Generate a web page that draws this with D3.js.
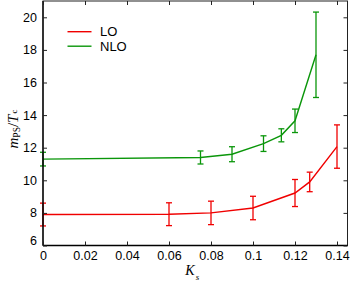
<!DOCTYPE html>
<html>
<head>
<meta charset="utf-8">
<script src="https://cdn.jsdelivr.net/npm/d3@7"></script>
<style>
  body { margin: 0; background: #fff; }
  svg text { font-family: "Liberation Sans", Arial, sans-serif; }
</style>
</head>
<body>
<svg id="chart" width="354" height="283"></svg>
<script>
const loX = [0, 0.06, 0.08, 0.1, 0.12, 0.127, 0.14]
const loY = [7.9, 7.92, 8.0, 8.3, 9.22, 9.9, 12.07]
const loErr = [0.7, 0.7, 0.72, 0.72, 0.83, 0.6, 1.33]

const nloX = [0, 0.075, 0.09, 0.105, 0.1135, 0.12, 0.13]
const nloY = [11.3, 11.4, 11.6, 12.25, 12.76, 13.65, 17.7]
const nloErr = [0.42, 0.4, 0.46, 0.48, 0.4, 0.72, 2.62]

const xTicks = [0, 0.02, 0.04, 0.06, 0.08, 0.1, 0.12, 0.14]
const yTicks = [6, 8, 10, 12, 14, 16, 18, 20]

const series = [
    {name: 'LO', color: '#f00000', x: loX, y: loY, err: loErr},
    {name: 'NLO', color: '#0a960a', x: nloX, y: nloY, err: nloErr}
]

const svg = d3.select('#chart')
const margin = {left: 43, right: 6.5, top: 1, bottom: 37.5}
const width = +svg.attr('width')
const height = +svg.attr('height')

const x = d3.scaleLinear().domain([0, 0.145])
    .range([margin.left, width - margin.right])
const y = d3.scaleLinear().domain([6, 21])
    .range([height - margin.bottom, margin.top])

const fmt = d => d === 0 ? '0' : d3.format('')(+d.toFixed(2))

// series
const line = d3.line().x(d => x(d[0])).y(d => y(d[1]))
series.forEach(s => {
    const pts = s.x.map((v, i) => [v, s.y[i], s.err[i]])
    svg.append('path')
        .attr('d', line(pts))
        .attr('fill', 'none')
        .attr('stroke', s.color)
        .attr('stroke-width', 1.4)
    const eb = svg.append('g').attr('stroke', s.color).attr('stroke-width', 1.3)
    pts.forEach(p => {
        const cx = x(p[0])
        eb.append('line').attr('x1', cx).attr('x2', cx)
            .attr('y1', y(p[1] - p[2])).attr('y2', y(p[1] + p[2]))
        ;[p[1] - p[2], p[1] + p[2]].forEach(v => {
            eb.append('line').attr('x1', cx - 3).attr('x2', cx + 3)
                .attr('y1', y(v)).attr('y2', y(v))
        })
    })
})

// frame and ticks
const x0 = x.range()[0], x1 = x.range()[1]
const y0 = y.range()[0], y1 = y.range()[1]
svg.append('rect')
    .attr('x', x0).attr('y', y1)
    .attr('width', x1 - x0).attr('height', y0 - y1)
    .attr('fill', 'none').attr('stroke', '#222').attr('stroke-width', 1)
svg.append('line').attr('x1', x0).attr('x2', x0).attr('y1', y1).attr('y2', y0)
    .attr('stroke', '#000').attr('stroke-width', 1.3)
svg.append('line').attr('x1', x0).attr('x2', x1).attr('y1', y0).attr('y2', y0)
    .attr('stroke', '#000').attr('stroke-width', 1.3)

const axB = svg.append('g')
    .attr('transform', `translate(0,${y0})`)
    .call(d3.axisBottom(x).tickValues(xTicks).tickSizeInner(-4).tickSizeOuter(0).tickPadding(5.5).tickFormat(fmt))
const axT = svg.append('g')
    .attr('transform', `translate(0,${y1})`)
    .call(d3.axisTop(x).tickValues(xTicks).tickSizeInner(-4).tickSizeOuter(0).tickFormat(''))
const axL = svg.append('g')
    .attr('transform', `translate(${x0},0)`)
    .call(d3.axisLeft(y).tickValues(yTicks).tickSizeInner(-4).tickSizeOuter(0).tickPadding(6))
const axR = svg.append('g')
    .attr('transform', `translate(${x1},0)`)
    .call(d3.axisRight(y).tickValues(yTicks).tickSizeInner(-4).tickSizeOuter(0).tickFormat(''))

;[axB, axT, axL, axR].forEach(g => {
    g.select('.domain').remove()
    g.selectAll('.tick line').attr('stroke', '#222')
    g.selectAll('text').attr('font-size', 12.5).attr('fill', '#000')
})
axL.selectAll('.tick').filter(d => d === 6).select('text').attr('dy', '-0.05em')

// axis labels
svg.append('text')
    .attr('x', (x0 + x1) / 2 - 3).attr('y', 275.3)
    .attr('text-anchor', 'middle')
    .style('font-family', '"Liberation Serif", "Times New Roman", serif')
    .style('font-style', 'italic')
    .attr('font-size', 14)
    .text('K')
    .append('tspan').attr('font-size', 9).attr('dx', 1).attr('dy', 5).text('s')

const yl = svg.append('text')
    .attr('transform', 'translate(17.5,129) rotate(-90)')
    .attr('text-anchor', 'middle')
    .style('font-family', '"Liberation Serif", "Times New Roman", serif')
    .attr('font-size', 15)
yl.append('tspan').style('font-style', 'italic').text('m')
yl.append('tspan').attr('font-size', 9.5).attr('dy', 2).text('PS')
yl.append('tspan').attr('dy', -2).text('/')
yl.append('tspan').style('font-style', 'italic').text('T')
yl.append('tspan').attr('font-size', 9).attr('dx', 1).attr('dy', -1).text('c')

// legend
const legend = svg.append('g')
series.forEach((s, i) => {
    const ly = 31.7 + i * 14.5
    legend.append('line').attr('x1', 67.5).attr('x2', 91.5)
        .attr('y1', ly).attr('y2', ly)
        .attr('stroke', s.color).attr('stroke-width', 1.4)
    legend.append('text').attr('x', 100).attr('y', ly + 4.6)
        .attr('font-size', 13).text(s.name)
})
</script>
</body>
</html>
